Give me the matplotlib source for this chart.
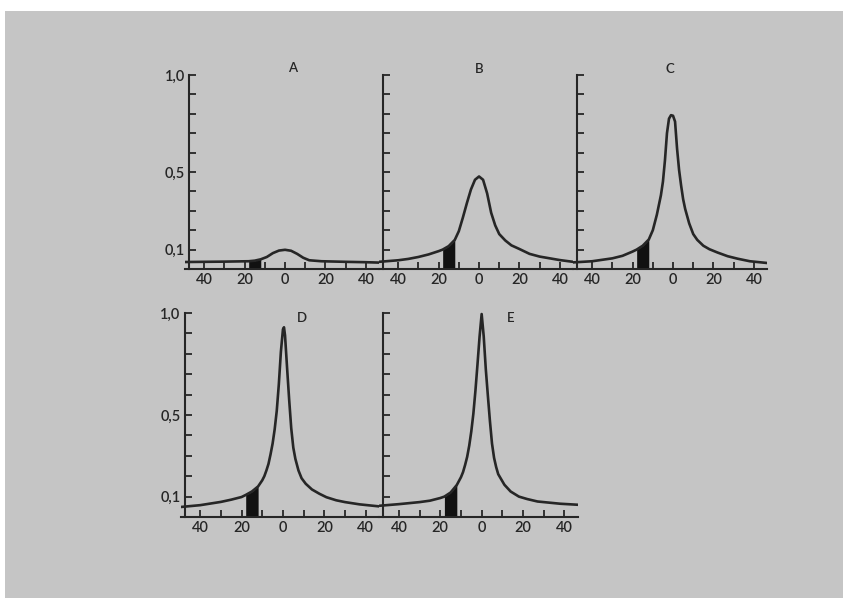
#!/usr/bin/env python3
"""
Five response curves (A-E) drawn as in the scanned book figure.
"""

import numpy as np
import matplotlib
matplotlib.use("Agg")
import matplotlib.pyplot as plt
from matplotlib.patches import Rectangle

# ---- data ----
panel_names = ["A", "B", "C", "D", "E"]

a_x = [-49.5, -40, -30, -18, -15, -12, -9, -6, -3, 0, 3, 6, 9, 12, 18, 30, 40, 46.5]
a_y = [0.036, 0.037, 0.038, 0.040, 0.043, 0.050, 0.062, 0.082, 0.095, 0.099,
       0.094, 0.078, 0.058, 0.045, 0.040, 0.037, 0.035, 0.033]

b_x = [-49.5, -40, -35, -30, -25, -20, -18, -15, -12, -10, -8, -6, -4, -2, 0,
       2, 4, 6, 8, 10, 13, 16, 20, 25, 30, 35, 40, 46.5]
b_y = [0.037, 0.045, 0.052, 0.062, 0.075, 0.092, 0.100, 0.118, 0.150, 0.195,
       0.265, 0.340, 0.410, 0.460, 0.477, 0.460, 0.390, 0.290, 0.225, 0.180,
       0.147, 0.122, 0.103, 0.078, 0.064, 0.055, 0.046, 0.037]

c_x = [-49.5, -40, -30, -25, -20, -18, -15, -12, -10, -8, -6, -5, -4, -3, -2,
       -1, 0, 1, 2, 3, 4, 5, 6, 8, 10, 12, 15, 18, 22, 27, 32, 38, 46.5]
c_y = [0.034, 0.040, 0.055, 0.068, 0.090, 0.100, 0.120, 0.152, 0.200, 0.280,
       0.380, 0.450, 0.560, 0.700, 0.775, 0.793, 0.790, 0.760, 0.620, 0.510,
       0.430, 0.360, 0.310, 0.235, 0.180, 0.150, 0.120, 0.102, 0.085, 0.066,
       0.053, 0.040, 0.031]

d_x = [-49.5, -40, -30, -25, -20, -18, -15, -12, -10, -9, -8, -7, -6, -5, -4,
       -3, -2, -1, 0, 0.5, 1, 2, 3, 4, 5, 6, 7.5, 9, 11, 14, 17.6, 21, 25.7,
       30, 37, 46.5]
d_y = [0.049, 0.058, 0.074, 0.085, 0.098, 0.108, 0.125, 0.150, 0.180, 0.200,
       0.228, 0.260, 0.307, 0.360, 0.430, 0.520, 0.650, 0.810, 0.920, 0.930,
       0.890, 0.730, 0.575, 0.435, 0.340, 0.285, 0.228, 0.190, 0.163, 0.135,
       0.114, 0.097, 0.082, 0.073, 0.062, 0.052]

e_x = [-49.5, -40, -30, -25, -20, -18, -15, -12, -10, -9, -8, -7, -6, -5, -4,
       -3, -2, -1, 0, 1, 2, 3, 4, 5, 6, 7, 8, 11, 14, 18, 22, 27, 33, 38, 46.5]
e_y = [0.055, 0.063, 0.073, 0.080, 0.093, 0.100, 0.120, 0.157, 0.195, 0.220,
       0.255, 0.295, 0.350, 0.420, 0.507, 0.620, 0.750, 0.885, 0.995, 0.885,
       0.725, 0.595, 0.470, 0.360, 0.290, 0.245, 0.210, 0.158, 0.125, 0.100,
       0.088, 0.076, 0.070, 0.065, 0.060]

curves_x = [a_x, b_x, c_x, d_x, e_x]
curves_y = [a_y, b_y, c_y, d_y, e_y]

shade_band = (-18, -12)            # black strip under each curve
x_ticks = [-40, -30, -20, -10, 0, 10, 20, 30, 40]
x_labeled = [-40, -20, 0, 20, 40]
y_ticks = [0.1, 0.2, 0.3, 0.4, 0.5, 0.6, 0.7, 0.8, 0.9, 1.0]
y_labeled = {0.1: "0,1", 0.5: "0,5", 1.0: "1,0"}

# ---- layout (figure fractions) ----
W, H = 843, 598
top_row = dict(bottom=(H - 269) / H, height=209.5 / H, width=194 / W)
bot_row = dict(bottom=(H - 517) / H, height=220.3 / H, width=198.7 / W)
panel_pos = [
    (185 / W, top_row), (379 / W, top_row), (573 / W, top_row),
    (180.5 / W, bot_row), (379.2 / W, bot_row),
]
title_pos = [(3.5, 1.035), (0, 1.03), (-1.5, 1.03), (9, 0.975), (14, 0.975)]
show_ylabels = [True, False, False, True, False]

ink = "#262626"
paper = "#c5c5c5"

plt.rcParams["font.family"] = ["Lato", "DejaVu Sans"]
plt.rcParams["font.weight"] = "semibold"

fig = plt.figure(figsize=(W / 100, H / 100), dpi=100, facecolor=paper)

# white scanner margins at the top and left
fig.patches.append(Rectangle((0, 1 - 11 / H), 1, 11 / H, transform=fig.transFigure,
                             facecolor="white", edgecolor="none", zorder=0))
fig.patches.append(Rectangle((0, 0), 5 / W, 1, transform=fig.transFigure,
                             facecolor="white", edgecolor="none", zorder=0))

for i, name in enumerate(panel_names):
    left, row = panel_pos[i]
    ax = fig.add_axes([left, row["bottom"], row["width"], row["height"]])
    ax.set_facecolor("none")

    x = np.array(curves_x[i])
    y = np.array(curves_y[i])
    ax.plot(x, y, color=ink, linewidth=1.9, solid_capstyle="round",
            solid_joinstyle="round")
    band = (x >= shade_band[0]) & (x <= shade_band[1])
    ax.fill_between(x, 0, y, where=band, color="#111111", linewidth=0)

    ax.set_xlim(-49.5, 46.5)
    ax.set_ylim(0, 1.08)

    for s in ["top", "right"]:
        ax.spines[s].set_visible(False)
    ax.spines["left"].set_position(("data", -47.5))
    ax.spines["left"].set_bounds(0, 1.0)
    for s in ["left", "bottom"]:
        ax.spines[s].set_color(ink)
        ax.spines[s].set_linewidth(1.5)

    ax.set_xticks(x_ticks)
    ax.set_xticklabels([str(abs(t)) if t in x_labeled else "" for t in x_ticks])
    ax.set_yticks(y_ticks)
    if show_ylabels[i]:
        ax.set_yticklabels([y_labeled.get(round(t, 1), "") for t in y_ticks])
    else:
        ax.set_yticklabels([])
    ax.tick_params(direction="in", length=5, width=1.3, color=ink,
                   labelcolor=ink, labelsize=10.5)
    ax.tick_params(axis="x", pad=3)
    ax.tick_params(axis="y", pad=3)

    tx, ty = title_pos[i]
    ax.text(tx, ty, name, ha="center", va="center", fontsize=9.5, color=ink)

fig.savefig("out.png", dpi=100, facecolor=paper)
